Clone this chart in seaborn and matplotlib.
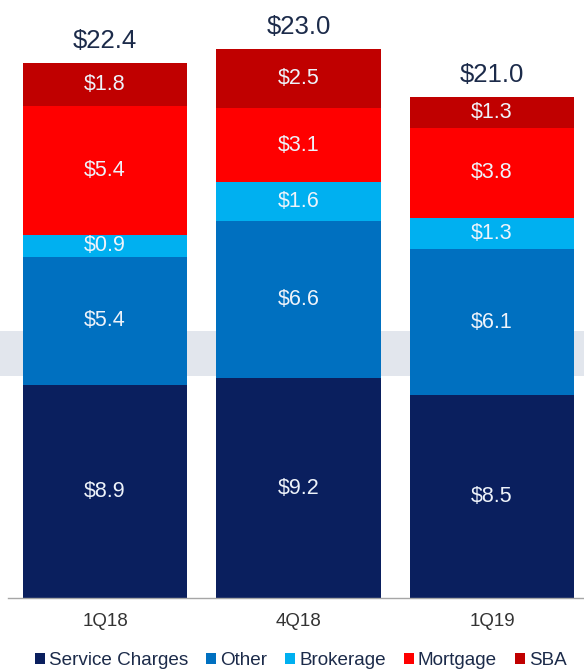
import matplotlib
matplotlib.use("Agg")
import matplotlib.pyplot as plt
from matplotlib.patches import Patch
import seaborn as sns
import numpy as np

# ---- data ----
quarters = ["1Q18", "4Q18", "1Q19"]
series = ["Service Charges", "Other", "Brokerage", "Mortgage", "SBA"]
service_charges = [8.9, 9.2, 8.5]
other = [5.4, 6.6, 6.1]
brokerage = [0.9, 1.6, 1.3]
mortgage = [5.4, 3.1, 3.8]
sba = [1.8, 2.5, 1.3]
totals = [22.4, 23.0, 21.0]
colors = ["#0a1f5e", "#0070c0", "#00b0f0", "#ff0000", "#c00000"]

sns.set_style("white")
plt.rcParams["font.family"] = ["Liberation Sans", "DejaVu Sans"]

values = np.array([service_charges, other, brokerage, mortgage, sba])
cum = np.cumsum(values, axis=0)

fig = plt.figure(figsize=(5.84, 6.72), dpi=100)
ax = fig.add_axes([8.25 / 584, 1 - 598 / 672, 580.5 / 584, 597 / 672])

# background band
ax.axhspan(9.29, 11.2, xmin=-0.02, xmax=1.0, color="#e2e6ed", zorder=0,
           clip_on=False, linewidth=0)

# draw cumulative bars from top segment down
for i in range(len(series) - 1, -1, -1):
    sns.barplot(x=quarters, y=cum[i], color=colors[i], width=0.85,
                saturation=1, linewidth=0, ax=ax, zorder=2)

# segment labels
for j in range(len(quarters)):
    bottom = 0.0
    for i in range(len(series)):
        v = values[i, j]
        ax.text(j, bottom + v / 2, f"${v:.1f}", ha="center", va="center",
                color="#eef3fa", fontsize=15.5, zorder=5)
        bottom += v
    ax.annotate(f"${totals[j]:.1f}", xy=(j, totals[j]), xytext=(0, 7),
                textcoords="offset points", ha="center", va="bottom",
                color="#1c2b4a", fontsize=18.5, zorder=5)

ax.set_xlim(-0.5, 2.5)
ax.set_ylim(0, 25)
ax.set_xlabel("")
ax.set_ylabel("")
ax.set_yticks([])
for s in ["left", "top", "right"]:
    ax.spines[s].set_visible(False)
ax.spines["bottom"].set_color("#a6a6a6")
ax.spines["bottom"].set_linewidth(1.0)
ax.set_xticks(range(len(quarters)))
ax.set_xticklabels(quarters)
ax.tick_params(axis="x", which="major", length=0, pad=11, labelsize=13.5,
               labelcolor="#333333")
ax.set_xticks([-0.5, 0.5, 1.5, 2.5], minor=True)
ax.tick_params(axis="x", which="minor", length=5, width=1.0, color="#a6a6a6",
               direction="out")

handles = [Patch(facecolor=c, edgecolor="none") for c in colors]
fig.legend(handles, series, loc="lower center", bbox_to_anchor=(0.515, -0.018),
           ncol=5, frameon=False, handlelength=0.55, handleheight=0.55,
           handletextpad=0.2, columnspacing=0.95, fontsize=13.6,
           labelcolor="#1c2b4a", borderpad=0.3)

fig.savefig("out.png", dpi=100)
